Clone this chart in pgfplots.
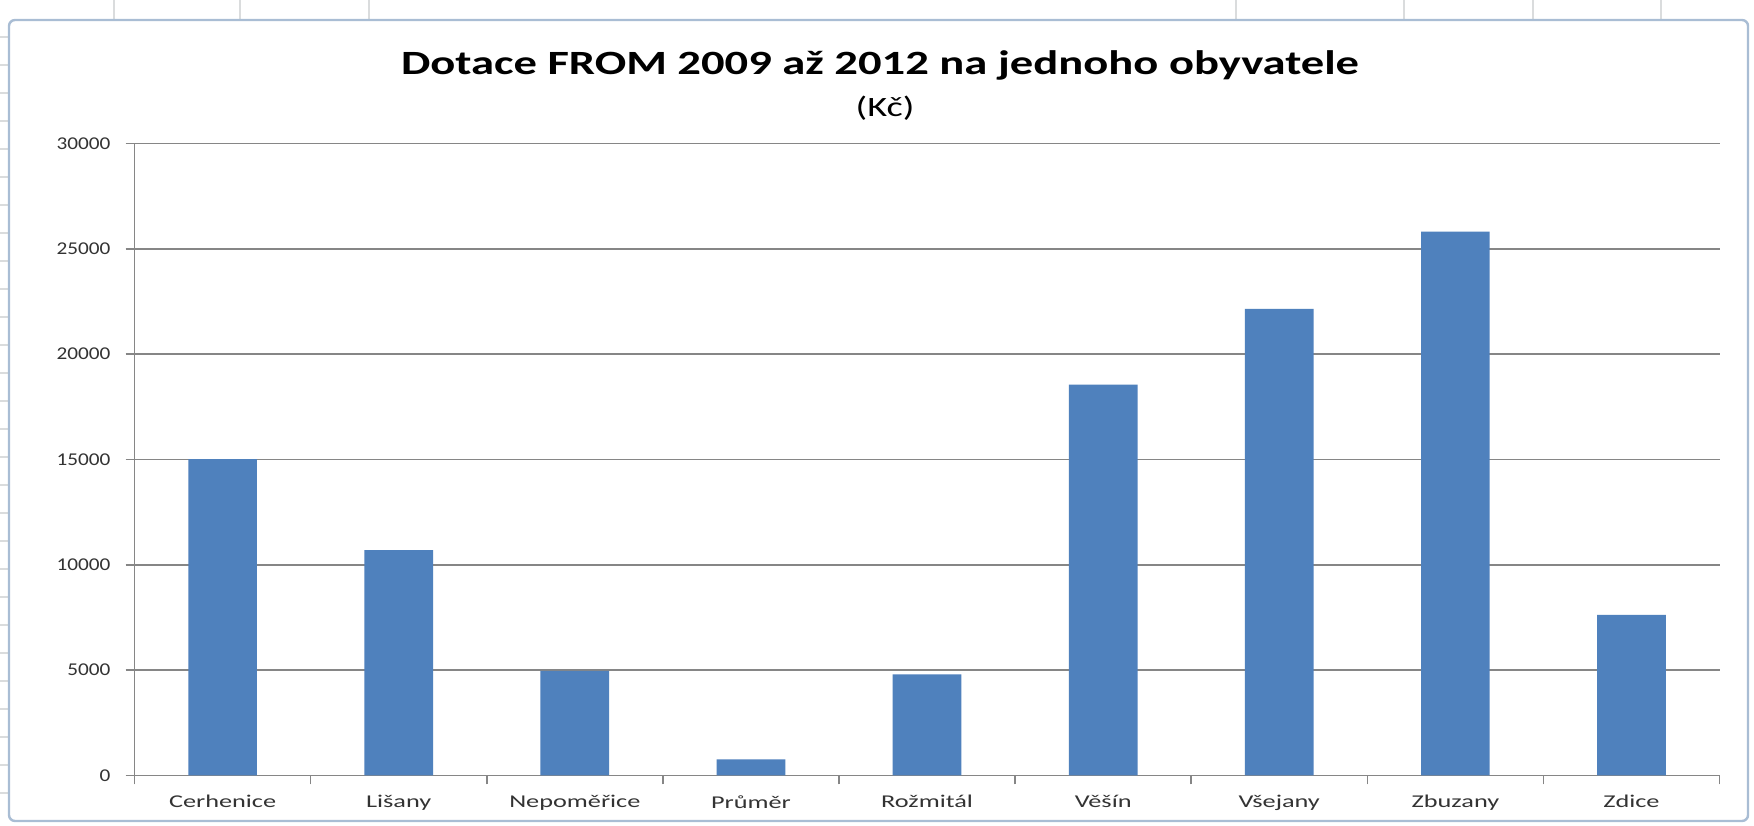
\documentclass[border=0pt]{standalone}
\usepackage{fontspec}
\setmainfont{Carlito}[FakeStretch=1.37]
\newfontfamily\xlabfont{Carlito}[FakeStretch=1.46]
\newfontfamily\ylabfont{Carlito}[FakeStretch=1.18]
\usepackage{pgfplots}
\pgfplotsset{compat=1.18}

\definecolor{barblue}{HTML}{4F81BD}
\definecolor{gridgray}{HTML}{868686}
\definecolor{framecol}{HTML}{A9BDD4}
\definecolor{cellline}{HTML}{DADCDD}

\pgfplotstableread{
idx value
0 15020
1 10700
2 4960
3 760
4 4800
5 18550
6 22150
7 25820
8 7620
}\dotace

\begin{document}
\begin{tikzpicture}[x=1pt,y=1pt]
\useasboundingbox (0,0) rectangle (877,412.5);
% spreadsheet cells around the chart
\foreach \xx in {57,120,184.5,618,702,766.5,830.5}
  \draw[cellline, line width=0.6pt] (\xx,402.5) -- (\xx,412.5);
\foreach \yy in {16,30,44,58,72,86,100,114,128,142,156,170,184,198,212,226,240,254,268,282,296,310,324,338,352,366,380,394}
  \draw[cellline, line width=0.6pt] (0,\yy) -- (4.5,\yy);
\draw[framecol, line width=1.2pt, fill=white, rounded corners=3pt] (4.5,2) rectangle (874,402.5);

\node[font=\bfseries\fontsize{17}{20}\selectfont, anchor=base] at (440,375.2)
  {Dotace FROM 2009 až 2012 na jednoho obyvatele};
\node[font=\fontsize{14}{16}\selectfont, anchor=base] at (442.5,354.3) {(Kč)};

\begin{axis}[
  at={(76.4,23.55)}, anchor=south west,
  width=792.5pt, height=315.9pt, scale only axis,
  xmin=-0.5, xmax=8.5, ymin=0, ymax=30000,
  xtick={-0.5,0.5,1.5,2.5,3.5,4.5,5.5,6.5,7.5,8.5},
  x tick label as interval,
  xticklabels={Cerhenice,Lišany,Nepoměřice,Průměr,Rožmitál,Věšín,Všejany,Zbuzany,Zdice},
  ytick={0,5000,10000,15000,20000,25000,30000},
  ymajorgrids,
  grid style={gridgray, line width=0.8pt},
  axis x line*=bottom, axis y line*=left,
  axis line style={gridgray, line width=0.8pt, -},
  tick align=outside,
  major tick length=4.5pt,
  tick style={gridgray, line width=0.8pt},
  xticklabel style={font=\xlabfont\fontsize{9}{11}\selectfont, text=black!80, yshift=-2pt},
  yticklabel style={font=\ylabfont\fontsize{9}{11}\selectfont, text=black!80, xshift=-4pt},
  /pgf/number format/assume math mode=true,
  /pgf/number format/set thousands separator={},
  scaled y ticks=false,
  clip=false,
]
\addplot[ybar, bar width=0.39, fill=barblue, draw=none] table[x=idx, y=value] {\dotace};
\end{axis}
\end{tikzpicture}
\end{document}
